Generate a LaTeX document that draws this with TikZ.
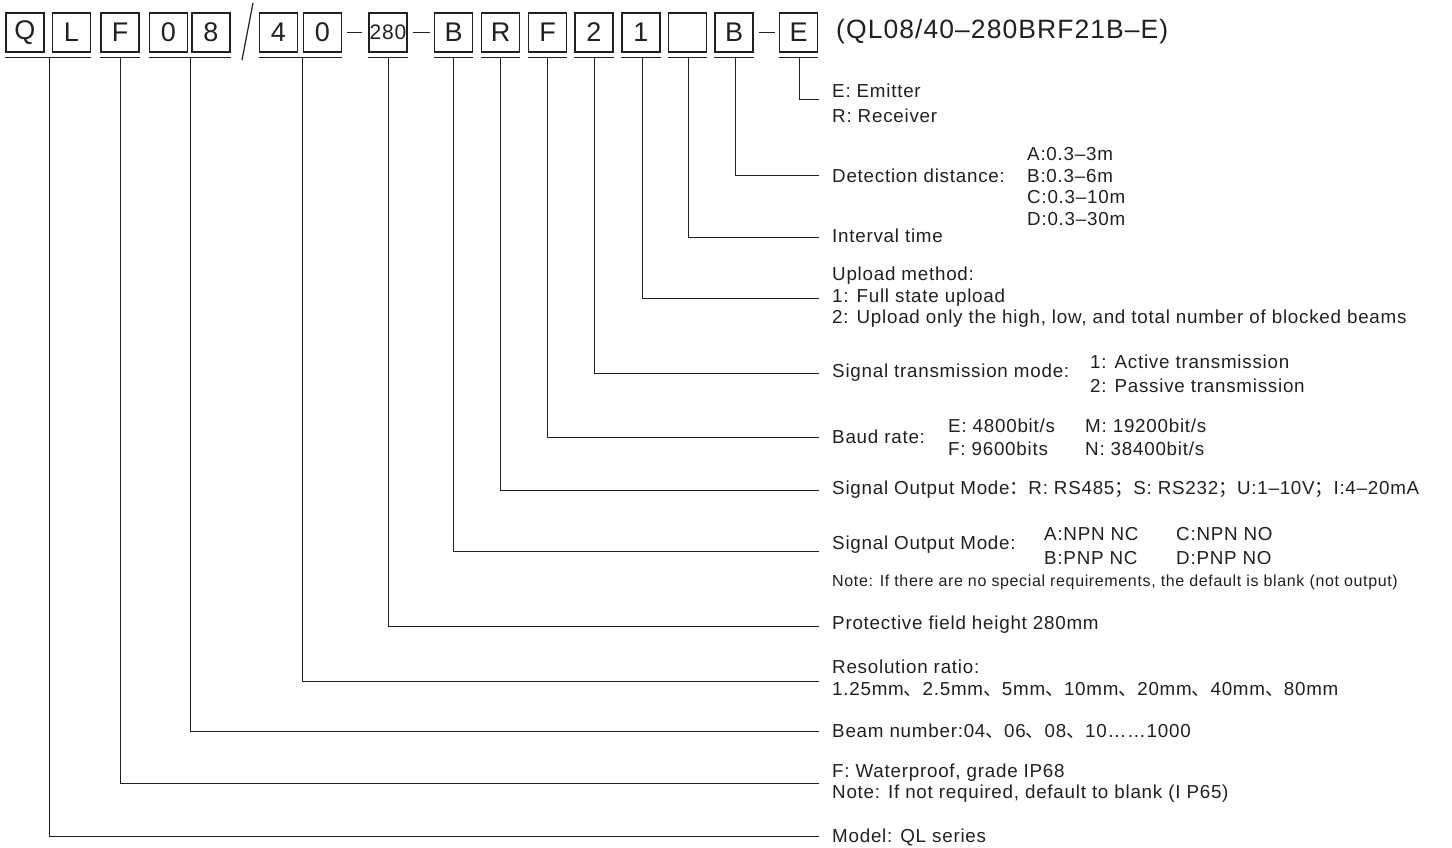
\documentclass[tikz,border=0pt]{standalone}
\usepackage{fontspec}
\setmainfont{Liberation Sans}[LetterSpace=4]
\newfontfamily\cjk{Noto Sans CJK SC}
\usetikzlibrary{positioning}
\definecolor{ink}{HTML}{231F20}

\begin{document}
\begin{tikzpicture}[
  x=1pt, y=-1pt,
  cell/.style={draw=ink, line width=1.2pt, minimum width=38pt, minimum height=39pt,
               inner sep=0pt, text=ink, font=\fontsize{27}{27}\selectfont},
  lead/.style={draw=ink, line width=1pt},
  lbl/.style={anchor=west, inner sep=0pt, align=left, text=ink,
              font=\fontsize{18.8}{21.5}\selectfont},
  note/.style={anchor=west, inner sep=0pt, text=ink, font=\fontsize{16}{18}\selectfont},
]
\useasboundingbox (0,0) rectangle (1452,848);

% code boxes
\node[cell] (q) at (25,32.5) {Q};
\node[cell] (l) at (71.5,32.5) {L};
\node[cell] (wp) at (120,32.5) {F};
\node[cell] (bn1) at (168.5,32.5) {0};
\node[cell] (bn2) at (211,32.5) {8};
\node[cell] (rs1) at (278.5,32.5) {4};
\node[cell] (rs2) at (322.5,32.5) {0};
\node[cell, font=\fontsize{21}{21}\selectfont] (ht) at (388,32.5) {280};
\node[cell] (om) at (453.5,32.5) {B};
\node[cell] (so) at (500.5,32.5) {R};
\node[cell] (bd) at (547.5,32.5) {F};
\node[cell] (tm) at (594,32.5) {2};
\node[cell] (up) at (641,32.5) {1};
\node[cell] (it) at (687.5,32.5) {};
\node[cell] (dd) at (734,32.5) {B};
\node[cell] (er) at (798.5,32.5) {E};
\node[anchor=west, inner sep=0pt, text=ink, font=\fontsize{26.5}{26.5}\selectfont] (full) at (836,32) {(QL08/40--280BRF21B--E)};

% separators
\draw[lead, line width=1.2pt] (242,60) -- (253,3);
\draw[lead] ([xshift=5pt]rs2.east) -- ([xshift=-6pt]ht.west);
\draw[lead] ([xshift=5pt]ht.east) -- ([xshift=-4pt]om.west);
\draw[lead] ([xshift=5pt]dd.east) -- ([xshift=-4pt]er.west);

% underlines
\draw[lead] ([yshift=-5pt]q.south west) -- ([yshift=-5pt]l.south east);
\draw[lead] ([yshift=-5pt]wp.south west) -- ([yshift=-5pt]wp.south east);
\draw[lead] ([yshift=-5pt]bn1.south west) -- ([yshift=-5pt]bn2.south east);
\draw[lead] ([yshift=-5pt]rs1.south west) -- ([yshift=-5pt]rs2.south east);
\foreach \c in {ht,om,so,bd,tm,up,it,dd,er}
  \draw[lead] ([yshift=-5pt]\c.south west) -- ([yshift=-5pt]\c.south east);

% stem tops and line ends
\coordinate (sQL) at (49,57);   \coordinate (eQL) at (819,836);
\coordinate (sWP) at (120,57);  \coordinate (eWP) at (819,783);
\coordinate (sBN) at (190,57);  \coordinate (eBN) at (819,731);
\coordinate (sRS) at (302,57);  \coordinate (eRS) at (819,681);
\coordinate (sHT) at (388,57);  \coordinate (eHT) at (819,626);
\coordinate (sOM) at (453,57);  \coordinate (eOM) at (819,551);
\coordinate (sSO) at (500,57);  \coordinate (eSO) at (819,490);
\coordinate (sBD) at (547,57);  \coordinate (eBD) at (819,437);
\coordinate (sTM) at (594,57);  \coordinate (eTM) at (819,373);
\coordinate (sUP) at (642,57);  \coordinate (eUP) at (819,298);
\coordinate (sIT) at (688,57);  \coordinate (eIT) at (819,237);
\coordinate (sDD) at (735,57);  \coordinate (eDD) at (819,176);
\coordinate (sER) at (799,57);  \coordinate (eER) at (819,100);

\foreach \k in {QL,WP,BN,RS,HT,OM,SO,BD,TM,UP,IT,DD,ER}
  \draw[lead] (s\k) |- (e\k);

% descriptions
\node[lbl] (tER) at (832,103.5) {E: Emitter\\[3pt]R: Receiver};
\node[lbl] (tDD) at (832,176) {Detection distance:};
\node[lbl] (vDD) at (1027,186.5) {A:0.3--3m\\B:0.3--6m\\C:0.3--10m\\D:0.3--30m};
\node[lbl] (tIT) at (832,236) {Interval time};
\node[lbl] (tUP) at (832,297.5) {Upload method:\\1: Full state upload\\2: Upload only the high, low, and total number of blocked beams};
\node[lbl] (tTM) at (832,373) {Signal transmission mode:};
\node[lbl] (vTM) at (1090,374) {1: Active transmission\\[2pt]2: Passive transmission};
\node[lbl] (tBD) at (832,437) {Baud rate:};
\node[lbl] (vBD1) at (948,437.5) {E: 4800bit/s\\[1.5pt]F: 9600bits};
\node[lbl] (vBD2) at (1085,437.5) {M: 19200bit/s\\[1.5pt]N: 38400bit/s};
\node[lbl] (tSO) at (832,490) {Signal Output Mode{\cjk ：}R: RS485{\cjk ；}S: RS232{\cjk ；}U:1--10V{\cjk ；}I:4--20mA};
\node[lbl] (tOM) at (832,545) {Signal Output Mode:};
\node[lbl] (vOM1) at (1044,546) {A:NPN NC\\[2.5pt]B:PNP NC};
\node[lbl] (vOM2) at (1176,546) {C:NPN NO\\[2.5pt]D:PNP NO};
\node[note] (nOM) at (832,582) {Note: If there are no special requirements, the default is blank (not output)};
\node[lbl] (tHT) at (832,625) {Protective field height 280mm};
\node[lbl] (tRS) at (832,678) {Resolution ratio:\\1.25mm{\cjk 、}2.5mm{\cjk 、}5mm{\cjk 、}10mm{\cjk 、}20mm{\cjk 、}40mm{\cjk 、}80mm};
\node[lbl] (tBN) at (832,731) {Beam number:04{\cjk 、}06{\cjk 、}08{\cjk 、}10……1000};
\node[lbl] (tWP) at (832,783) {F: Waterproof, grade IP68\\Note: If not required, default to blank (I P65)};
\node[lbl] (tQL) at (832,837) {Model: QL series};
\end{tikzpicture}
\end{document}
